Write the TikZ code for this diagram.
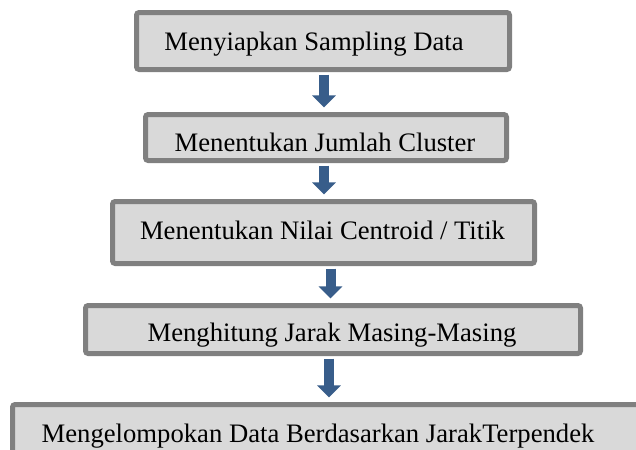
\documentclass[tikz,border=0pt]{standalone}
\usepackage{fontspec}
\setmainfont{Liberation Serif}
\usetikzlibrary{arrows.meta,calc}
\definecolor{boxfill}{HTML}{D9D9D9}
\definecolor{boxline}{HTML}{808080}
\definecolor{flowblue}{HTML}{385D8A}
\tikzset{
    box/.style={rectangle,draw=boxline,fill=boxfill,line width=3.75pt,rounded corners=2pt,inner sep=0pt},
    txt/.style={anchor=base,inner sep=0pt,font=\fontsize{20}{24}\selectfont},
    flow/.style={draw=flowblue,line width=7.5pt,-{Triangle[width=17.25pt,length=9pt]},
        shorten <=1.9pt,shorten >=3.4pt}
}
\begin{document}
\begin{tikzpicture}[x=0.75pt,y=-0.75pt]
        \useasboundingbox (0,0) rectangle (636,450);
        \clip (0,0) rectangle (636,450);
        % Boxes
        \node[box,minimum width=279.75pt,minimum height=42.75pt] (b1) at (323,41) {};
        \node[box,minimum width=270.75pt,minimum height=34.5pt] (b2) at (326,137.5) {};
        \node[box,minimum width=316.5pt,minimum height=46.5pt] (b3) at (323.5,232.5) {};
        \node[box,minimum width=371.25pt,minimum height=36pt] (b4) at (333,329.5) {};
        \node[box,minimum width=483.75pt,minimum height=54.75pt] (b5) at (335,441) {};

        % Texts
        \node[txt] (t1) at (314,50) {Menyiapkan Sampling Data};
        \node[txt] (t2) at (325,151) {Menentukan Jumlah Cluster};
        \node[txt] (t3) at (322.5,239) {Menentukan Nilai Centroid / Titik};
        \node[txt] (t4) at (332,341) {Menghitung Jarak Masing-Masing};
        \node[txt] (t5) at (318,442) {Mengelompokan Data Berdasarkan JarakTerpendek};

        % Arrows
        \foreach \a/\b/\d in {b1/b2/1, b2/b3/-2, b3/b4/7, b4/b5/-4} {
            \coordinate (s) at ($(\a.south)+(\d,0)$);
            \draw[flow] (s) -- (s |- \b.north);
        }
    \end{tikzpicture}
\end{document}
